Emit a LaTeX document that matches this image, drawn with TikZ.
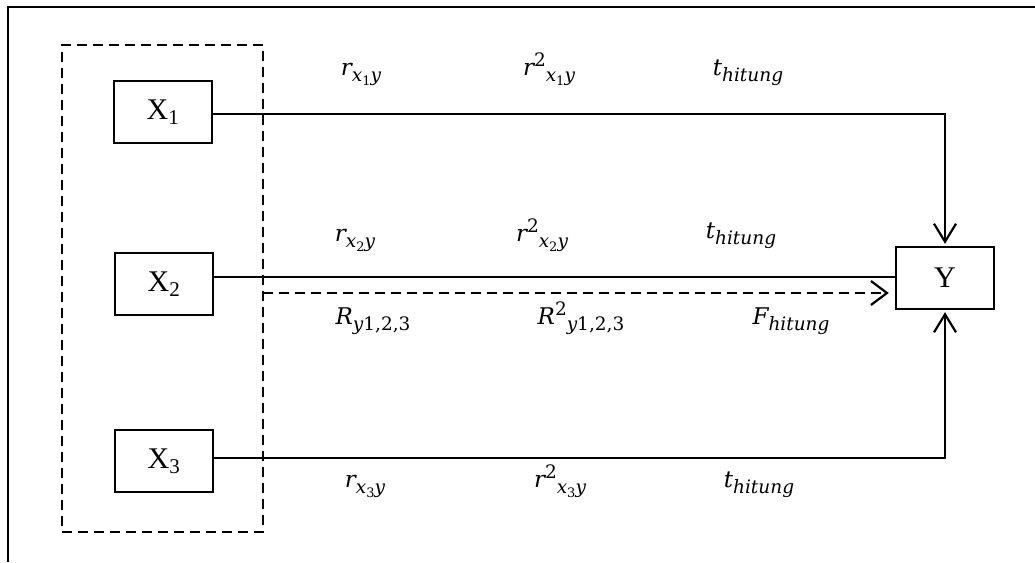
\documentclass[tikz,border=0pt]{standalone}
\usepackage{fontspec}
\setmainfont{Liberation Serif}
\newfontfamily\mfont{DejaVu Serif}
\newcommand\mi[1]{{\mfont\itshape #1}}
\newcommand\mn[1]{{\mfont\upshape #1}}
\newcommand\lsub[1]{\raisebox{-0.3em}{\fontsize{18.5}{18.5}\selectfont #1}}
\newcommand\lsup[1]{\raisebox{0.35em}{\fontsize{18.5}{18.5}\selectfont #1}}
\newcommand\lsubsub[1]{\raisebox{-0.22em}{\fontsize{13}{13}\selectfont #1}}
\usetikzlibrary{arrows.meta,calc}
\begin{document}
\begin{tikzpicture}[x=1pt,y=-1pt,
  box/.style={draw,line width=2.4pt,minimum width=98pt,minimum height=62pt,inner sep=0pt,font=\fontsize{30}{34}\selectfont},
  lbl/.style={inner sep=0pt,anchor=base,font=\fontsize{23}{27}\selectfont},
  conn/.style={line width=2.2pt},
  tip/.style={-{Straight Barb[length=18pt,width=22pt,line width=2.2pt]},shorten >=2pt},
  grpbox/.style={draw,line width=2.4pt,dash pattern=on 10pt off 6pt,minimum width=201pt,minimum height=487pt,inner sep=0pt}
]
\useasboundingbox (0,0) rectangle (1035,562);
% frame
\coordinate (fa) at (8,562);
\coordinate (fb) at (8,7);
\coordinate (fc) at (1035,7);
\draw[line width=2.4pt] (fa) -- (fb) -- (fc);
% group
\node[grpbox] (grp) at (162.5,288.5) {};
% boxes
\node[box] (X1) at (163,112) {X\textsubscript{1}};
\node[box] (X2) at (164,284) {X\textsubscript{2}};
\node[box] (X3) at (164,461) {X\textsubscript{3}};
\node[box] (Y) at (945,278) {Y};
% connectors
\draw[conn,tip] ([yshift=-2pt]X1.east) -| (Y.north);
\draw[conn,tip] ([yshift=3pt]X3.east) -| (Y.south);
\draw[conn] ([yshift=7pt]X2.east) -- ([yshift=7pt]X2.east -| Y.west);
\coordinate (ds) at (263,293);
\draw[conn,dash pattern=on 10pt off 6pt,-{Straight Barb[length=16pt,width=24pt,line width=2.2pt]},shorten >=6pt] (ds) -- (ds -| Y.west);
% labels
\node[lbl] (a1) at (361,75) {\mi{r}\lsub{\mi{x}\lsubsub{\mn{1}}\mi{y}}};
\node[lbl] (b1) at (549,75) {\mi{r}\lsup{\mn{2}}\lsub{\mi{x}\lsubsub{\mn{1}}\mi{y}}};
\node[lbl] (c1) at (748,75) {\mi{t}\lsub{\mi{hitung}}};
\node[lbl] (a2) at (355,241) {\mi{r}\lsub{\mi{x}\lsubsub{\mn{2}}\mi{y}}};
\node[lbl] (b2) at (542,241) {\mi{r}\lsup{\mn{2}}\lsub{\mi{x}\lsubsub{\mn{2}}\mi{y}}};
\node[lbl] (c2) at (741,238) {\mi{t}\lsub{\mi{hitung}}};
\node[lbl] (a3) at (373,324) {\mi{R}\lsub{\mi{y}\mn{1,2,3}}};
\node[lbl] (b3) at (581,324) {\mi{R}\lsup{\mn{2}}\lsub{\mi{y}\mn{1,2,3}}};
\node[lbl] (c3) at (791,324) {\mi{F}\lsub{\mi{hitung}}};
\node[lbl] (a4) at (365,487) {\mi{r}\lsub{\mi{x}\lsubsub{\mn{3}}\mi{y}}};
\node[lbl] (b4) at (560,487) {\mi{r}\lsup{\mn{2}}\lsub{\mi{x}\lsubsub{\mn{3}}\mi{y}}};
\node[lbl] (c4) at (759,487) {\mi{t}\lsub{\mi{hitung}}};
\end{tikzpicture}
\end{document}
